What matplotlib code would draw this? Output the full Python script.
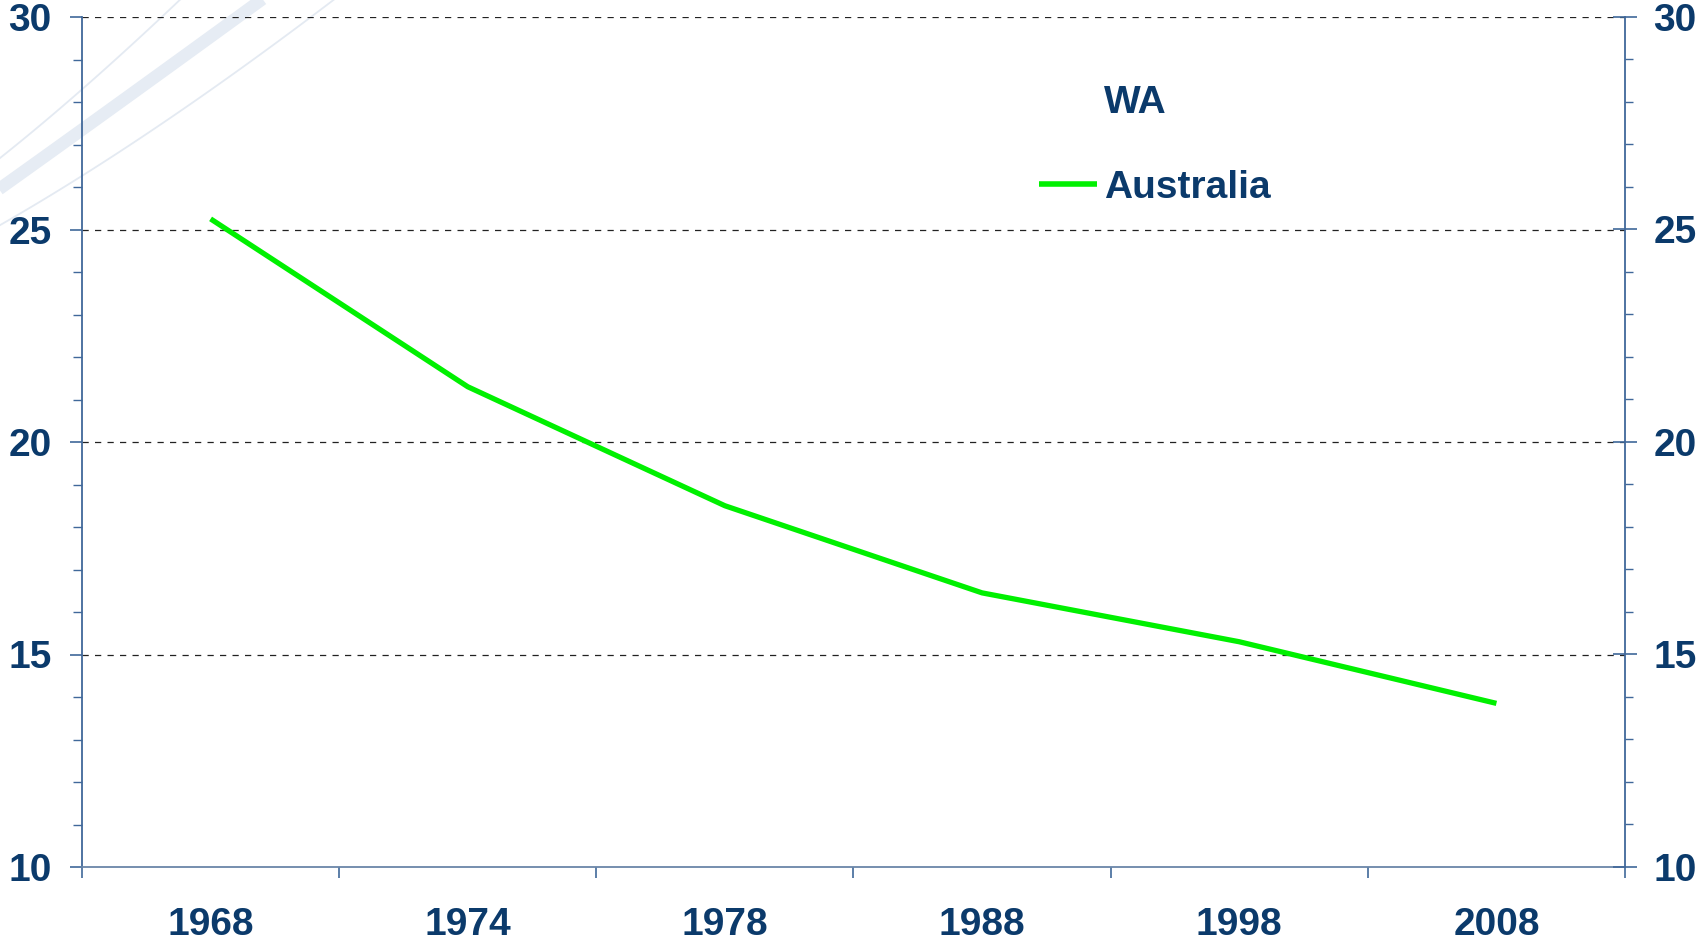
import numpy as np
import matplotlib
matplotlib.use("Agg")
import matplotlib.pyplot as plt
from matplotlib.lines import Line2D
from matplotlib.ticker import MultipleLocator, FixedLocator

years = ["1968", "1974", "1978", "1988", "1998", "2008"]
australia = [25.25, 21.3, 18.5, 16.45, 15.3, 13.85]
legend_title = "WA"
series_name = "Australia"

navy = "#0B3A6B"
axis_col = "#40689A"
green = "#00F000"

plt.rcParams["font.family"] = ["Liberation Sans", "DejaVu Sans"]
plt.rcParams["font.weight"] = "bold"

W, H = 1697, 943
fig = plt.figure(figsize=(W / 100, H / 100), dpi=100)

# decorative swoosh in the top-left corner (figure pixel coords, y from top)
def swoosh(p0, c, p1, lw, col):
    t = np.linspace(0, 1, 50)
    x = (1 - t) ** 2 * p0[0] + 2 * (1 - t) * t * c[0] + t ** 2 * p1[0]
    y = (1 - t) ** 2 * p0[1] + 2 * (1 - t) * t * c[1] + t ** 2 * p1[1]
    fig.add_artist(Line2D(x / W, 1 - y / H, transform=fig.transFigure,
                          lw=lw, color=col, zorder=-5, solid_capstyle="butt"))

swoosh((-5, 162), (80, 95), (185, -5), 1.3, "#E4EAF2")
swoosh((-5, 192), (110, 110), (268, -5), 9, "#E6ECF4")
swoosh((-5, 228), (150, 140), (340, -5), 1.3, "#E4EAF2")

ax = fig.add_axes([82 / W, 1 - 867 / H, (1625 - 82) / W, (867 - 17) / H])
ax.patch.set_alpha(0)

x = np.arange(len(years))
line, = ax.plot(x, australia, color=green, lw=3.8, label=series_name,
                solid_capstyle="butt", zorder=3)

ax.set_xlim(-0.5, len(years) - 0.5)
ax.set_ylim(10, 30)

# x axis: labels at category centres, ticks at boundaries
ax.set_xticks(x)
ax.set_xticklabels(years)
ax.xaxis.set_minor_locator(FixedLocator(np.arange(-0.5, len(years), 1.0)))
ax.tick_params(axis="x", which="major", length=0, pad=29, labelsize=28,
               labelcolor=navy)
ax.tick_params(axis="x", which="minor", length=8, width=1.2, color=axis_col,
               direction="out")

ax.yaxis.set_major_locator(MultipleLocator(5))
ax.yaxis.set_minor_locator(MultipleLocator(1))
ax.tick_params(axis="y", which="major", length=9, width=1.2, color=axis_col,
               direction="out", pad=13, labelsize=28, labelcolor=navy)
ax.tick_params(axis="y", which="minor", length=6.5, width=1.0, color=axis_col,
               direction="out")

for s in ["top", "right"]:
    ax.spines[s].set_visible(False)
ax.spines["left"].set_color(axis_col)
ax.spines["left"].set_linewidth(1.3)
ax.spines["bottom"].set_color("#6A86A8")
ax.spines["bottom"].set_linewidth(1.3)

for v in [15, 20, 25, 30]:
    ax.axhline(v, color="#222222", lw=0.9, ls=(0, (5, 5)), zorder=1)

ax2 = ax.twinx()
ax2.set_ylim(10, 30)
ax2.yaxis.set_major_locator(MultipleLocator(5))
ax2.yaxis.set_minor_locator(MultipleLocator(1))
ax2.tick_params(axis="y", which="major", length=17, width=1.2, color=axis_col,
                direction="inout", pad=12, labelsize=28, labelcolor=navy)
ax2.tick_params(axis="y", which="minor", length=6, width=1.0, color=axis_col,
                direction="out")
for s in ["top", "left", "bottom"]:
    ax2.spines[s].set_visible(False)
ax2.spines["right"].set_color(axis_col)
ax2.spines["right"].set_linewidth(1.3)

handles = [Line2D([], [], color="none", label=legend_title), line]
leg = ax.legend(handles=handles, loc="upper left",
                bbox_to_anchor=(1039 / W, 1 - 85 / H),
                bbox_transform=fig.transFigure, frameon=False,
                fontsize=28, handlelength=1.5, handletextpad=0.18,
                labelspacing=1.25, borderpad=0, borderaxespad=0)
for t in leg.get_texts():
    t.set_color(navy)
    t.set_fontweight("bold")
leg.get_lines()[1].set_linewidth(4)

fig.savefig("out.png", dpi=100)
